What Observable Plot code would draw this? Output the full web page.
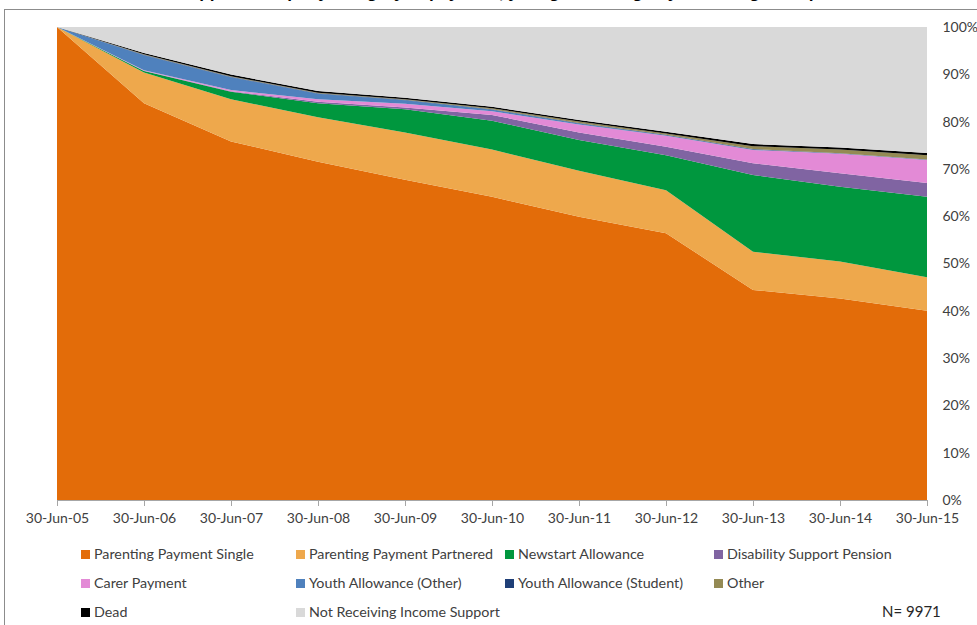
<!DOCTYPE html>
<html>
<head>
<meta charset="utf-8">
<script src="https://cdn.jsdelivr.net/npm/d3@7"></script>
<script src="https://cdn.jsdelivr.net/npm/@observablehq/plot@0.6"></script>
<style>
  html, body { margin: 0; padding: 0; background: #fff; overflow: hidden; }
  body { width: 977px; height: 625px; position: relative; font-family: Lato, "Open Sans", sans-serif; }
  #frame { position: absolute; left: 4px; top: 9px; width: 1200px; height: 800px; border: 1px solid #8c8c8c; box-sizing: border-box; }
  #title { position: absolute; left: 0; width: 977px; top: -17px; text-align: center; font: italic bold 17px "Liberation Sans", Arial, sans-serif; color: #000; white-space: nowrap; }
  #chart { position: absolute; left: 0; top: 0; }
  .leg { position: absolute; font-size: 14.3px; color: #404040; white-space: nowrap; line-height: 16px; }
  .sw { display: inline-block; width: 9px; height: 9px; margin-right: 4px; vertical-align: 0px; }
  #n { position: absolute; left: 882px; top: 602px; font-size: 15px; color: #262626; }
</style>
</head>
<body>
<div id="frame"></div>
<div id="title">Income support receipt by category of payment, young Parenting Payment Single recipients</div>
<div id="chart"></div>
<div id="legend"></div>
<div id="n">N= 9971</div>
<script>
const years = [2005, 2006, 2007, 2008, 2009, 2010, 2011, 2012, 2013, 2014, 2015];
const tickLabels = ["30-Jun-05", "30-Jun-06", "30-Jun-07", "30-Jun-08", "30-Jun-09", "30-Jun-10", "30-Jun-11", "30-Jun-12", "30-Jun-13", "30-Jun-14", "30-Jun-15"];
const yTicks = [0, 10, 20, 30, 40, 50, 60, 70, 80, 90, 100];

const seriesNames = [
  "Parenting Payment Single", "Parenting Payment Partnered", "Newstart Allowance", "Disability Support Pension",
  "Carer Payment", "Youth Allowance (Other)", "Youth Allowance (Student)", "Other",
  "Dead", "Not Receiving Income Support"
];
const seriesColors = ["#E36C09", "#EEA84C", "#00973E", "#8064A2", "#E38AD6", "#4F81BD", "#1F3F77", "#948A54", "#000000", "#D9D9D9"];

const parentingSingle    = [100, 83.9, 75.8, 71.5, 67.7, 64.1, 59.9, 56.4, 44.4, 42.6, 40.0];
const parentingPartnered = [0, 6.5, 8.9, 9.4, 10.0, 10.0, 9.7, 9.1, 8.1, 7.8, 7.1];
const newstart           = [0, 0.3, 1.6, 3.0, 4.9, 6.1, 6.5, 7.4, 16.2, 15.8, 17.0];
const disability         = [0, 0.05, 0.1, 0.3, 0.4, 1.2, 1.6, 1.8, 2.5, 2.9, 2.9];
const carer              = [0, 0.1, 0.3, 0.5, 0.8, 0.8, 1.7, 2.3, 2.8, 4.1, 4.9];
const youthOther         = [0, 3.2, 2.7, 1.2, 0.7, 0.3, 0.2, 0.1, 0.1, 0.05, 0.05];
const youthStudent       = [0, 0.1, 0.1, 0.1, 0.1, 0.1, 0.1, 0.1, 0.1, 0.05, 0.05];
const other              = [0, 0.1, 0.1, 0.1, 0.1, 0.2, 0.3, 0.3, 0.6, 0.8, 0.9];
const dead               = [0, 0.25, 0.35, 0.35, 0.35, 0.35, 0.35, 0.35, 0.45, 0.45, 0.45];
const notReceiving       = [0, 5.5, 10.05, 13.55, 14.95, 16.85, 19.65, 22.15, 24.75, 25.45, 26.65];

const seriesValues = [parentingSingle, parentingPartnered, newstart, disability, carer, youthOther, youthStudent, other, dead, notReceiving];

const rows = [];
seriesNames.forEach((name, i) => {
  years.forEach((yr, j) => rows.push({ year: yr, series: name, value: seriesValues[i][j] }));
});

const chart = Plot.plot({
  width: 977,
  height: 530,
  marginLeft: 57,
  marginRight: 50,
  marginTop: 27,
  marginBottom: 30,
  style: { fontFamily: "Lato, 'Open Sans', sans-serif", fontSize: "14px", background: "transparent" },
  x: { type: "linear", domain: [years[0], years[years.length - 1]] },
  y: { domain: [0, 100] },
  color: { domain: seriesNames, range: seriesColors },
  marks: [
    Plot.areaY(rows, Plot.stackY({ x: "year", y: "value", z: "series", fill: "series", order: null, offset: null })),
    Plot.ruleY([0], { stroke: "#a6a6a6" }),
    Plot.axisX({ ticks: years, tickSize: 6, tickPadding: 7, tickFormat: (d) => tickLabels[years.indexOf(d)], stroke: "#a6a6a6", fill: "#404040", label: null }),
    Plot.axisY({ anchor: "right", ticks: yTicks, tickSize: 0, tickPadding: 15, tickFormat: (d) => d + "%", fill: "#404040", label: null })
  ]
});
document.getElementById("chart").appendChild(chart);

// legend
const legCols = [81, 296, 505, 714];
const legRows = [546, 575, 604];
const legend = document.getElementById("legend");
seriesNames.forEach((name, i) => {
  const r = Math.floor(i / 4), c = i % 4;
  const el = document.createElement("div");
  el.className = "leg";
  el.style.left = legCols[c] + "px";
  el.style.top = legRows[r] + "px";
  const sw = document.createElement("span");
  sw.className = "sw";
  sw.style.background = seriesColors[i];
  el.appendChild(sw);
  el.appendChild(document.createTextNode(name));
  legend.appendChild(el);
});
</script>
</body>
</html>
